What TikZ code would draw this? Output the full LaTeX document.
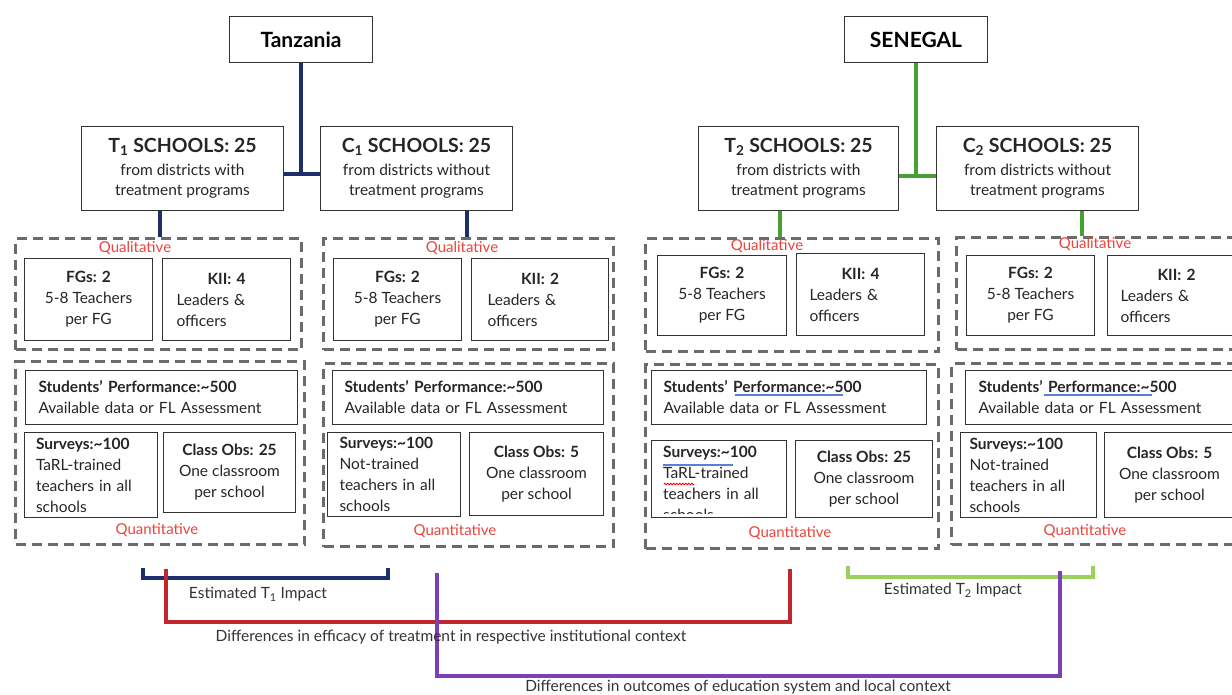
\documentclass[tikz,border=0pt]{standalone}
\usepackage{fontspec}
\setmainfont{Lato}
\usetikzlibrary{calc,decorations.pathmorphing}
\definecolor{navy}{HTML}{1C2E6C}
\definecolor{sgreen}{HTML}{47A032}
\definecolor{lgreen}{HTML}{9BD15A}
\definecolor{bred}{HTML}{C0262C}
\definecolor{purp}{HTML}{7A40B5}
\definecolor{lblred}{HTML}{E8453C}
\definecolor{dgray}{HTML}{6B6B6B}
\definecolor{spell}{HTML}{5B7FD6}
\newcommand\ttlf{\fontsize{19.5}{22}\selectfont\bfseries}
\newcommand\bdyf{\fontsize{15.5}{20}\selectfont}
\newcommand\boxf{\fontsize{15.5}{21}\selectfont}
\newcommand\lblf{\fontsize{15.5}{18}\selectfont}
\begin{document}
\begin{tikzpicture}[x=1pt,y=-1pt,
  country/.style={draw=black!80,line width=1pt,fill=white,anchor=north west,inner sep=0pt,minimum width=143pt,minimum height=46pt,font=\fontsize{21}{23}\selectfont\bfseries,text=black},
  school/.style={draw=black!80,line width=1pt,fill=white,anchor=north west,inner sep=0pt,minimum height=84pt,align=center,font=\bdyf,text=black!85},
  ibox/.style={draw=black!80,line width=1pt,fill=white,anchor=north west,inner sep=0pt,font=\boxf,text=black!85},
  grp/.style={draw=dgray,line width=3pt,dash pattern=on 10pt off 6pt,anchor=north west,inner sep=0pt},
  tag/.style={text=lblred,font=\fontsize{15}{17}\selectfont},
  tlink/.style={line width=4pt},
  brk/.style={line width=3.5pt},
  note/.style={font=\lblf,text=black!80}
]
\useasboundingbox (0,0) rectangle (1232,694);
\clip (0,0) rectangle (1232,694);

% ---------------- dashed groups ----------------
\node[grp,minimum width=286pt,minimum height=111pt] (q1) at (14,237) {};
\node[grp,minimum width=290pt,minimum height=111pt] (q2) at (322,237) {};
\node[grp,minimum width=289pt,minimum height=183pt] (n1) at (14,360) {};
\node[grp,minimum width=290pt,minimum height=183pt] (n2) at (322,362) {};
\node[grp,minimum width=293pt,minimum height=113pt] (q3) at (644,237) {};
\node[grp,minimum width=300pt,minimum height=112pt] (q4) at (955,236) {};
\node[grp,minimum width=293pt,minimum height=184pt] (n3) at (644,363) {};
\node[grp,minimum width=300pt,minimum height=181pt] (n4) at (950,362) {};

\node[tag] (ql1) at (135,248) {Qualitative};
\node[tag] (ql2) at (462,248) {Qualitative};
\node[tag] (ql3) at (767,246) {Qualitative};
\node[tag] (ql4) at (1095,244) {Qualitative};
\node[tag] (qn1) at (157,530) {Quantitative};
\node[tag] (qn2) at (455,531) {Quantitative};
\node[tag] (qn3) at (790,533) {Quantitative};
\node[tag] (qn4) at (1085,531) {Quantitative};

% ---------------- top boxes ----------------
\node[country] (tz) at (229,16) {Tanzania};
\node[country] (sn) at (844,16) {SENEGAL};
\node[school,minimum width=202pt] (t1) at (81,126) {{\ttlf T\textsubscript{1} SCHOOLS: 25}\\[3pt]from districts with\\treatment programs};
\node[school,minimum width=192pt] (c1) at (320,126) {{\ttlf C\textsubscript{1} SCHOOLS: 25}\\[3pt]from districts without\\treatment programs};
\node[school,minimum width=200pt] (t2) at (698,126) {{\ttlf T\textsubscript{2} SCHOOLS: 25}\\[3pt]from districts with\\treatment programs};
\node[school,minimum width=202pt] (c2) at (936,126) {{\ttlf C\textsubscript{2} SCHOOLS: 25}\\[3pt]from districts without\\treatment programs};

% ---------------- connectors ----------------
\coordinate (tj) at (300,174);
\coordinate (sj) at (916,176);
\draw[navy,tlink] (t1.east |- tj) -- (c1.west |- tj);
\draw[navy,tlink] (tz.south) -- (tz.south |- tj);
\draw[sgreen,tlink] (t2.east |- sj) -- (c2.west |- sj);
\draw[sgreen,tlink] (sn.south) -- (sn.south |- sj);
\coordinate (t1d) at ($(t1.south west)!0.39!(t1.south east)$);
\coordinate (c1d) at ($(c1.south west)!0.76!(c1.south east)$);
\coordinate (t2d) at ($(t2.south west)!0.41!(t2.south east)$);
\coordinate (c2d) at ($(c2.south west)!0.72!(c2.south east)$);
\draw[navy,tlink] (t1d) -- (t1d |- q1.north);
\draw[navy,tlink] (c1d) -- (c1d |- q2.north);
\draw[sgreen,tlink] (t2d) -- (t2d |- q3.north);
\draw[sgreen,tlink] (c2d) -- (c2d |- q4.north);

% ---------------- Tanzania inner boxes ----------------
\node[ibox,minimum width=128pt,minimum height=82pt,align=center] (fg1) at (24,258) {\textbf{FGs: 2}\\5-8 Teachers\\per FG};
\node[ibox,minimum width=128pt,minimum height=82pt,text width=100pt,align=left] (kii1) at (162,258) {\makebox[100pt]{\textbf{KII: 4}}\\Leaders \&\\officers};
\node[ibox,minimum width=128pt,minimum height=82pt,align=center] (fg2) at (333,258) {\textbf{FGs: 2}\\5-8 Teachers\\per FG};
\node[ibox,minimum width=137pt,minimum height=82pt,text width=105pt,align=left] (kii2) at (471,258) {\makebox[105pt]{\textbf{KII: 2}}\\Leaders \&\\officers};

\node[ibox,minimum width=272pt,minimum height=54pt,text width=246pt,align=left] (sp1) at (25,370) {\textbf{Students' Performance:\textasciitilde500}\\Available data or FL Assessment};
\node[ibox,minimum width=133pt,minimum height=85pt,text width=110pt,align=left] (sv1) at (24,432) {\textbf{Surveys:\textasciitilde100}\\TaRL-trained\\teachers in all\\schools};
\node[ibox,minimum width=132pt,minimum height=80pt,align=center] (co1) at (163,432) {\textbf{Class Obs: 25}\\One classroom\\per school};

\node[ibox,minimum width=271pt,minimum height=54pt,text width=247pt,align=left] (sp2) at (332,370) {\textbf{Students' Performance:\textasciitilde500}\\Available data or FL Assessment};
\node[ibox,minimum width=133pt,minimum height=84pt,text width=109pt,align=left] (sv2) at (327,432) {\textbf{Surveys:\textasciitilde100}\\Not-trained\\teachers in all\\schools};
\node[ibox,minimum width=134pt,minimum height=83pt,align=center] (co2) at (469,432) {\textbf{Class Obs: 5}\\One classroom\\per school};

% ---------------- Senegal inner boxes ----------------
\node[ibox,minimum width=129pt,minimum height=80pt,align=center] (fg3) at (657,255) {\textbf{FGs: 2}\\5-8 Teachers\\per FG};
\node[ibox,minimum width=128pt,minimum height=82pt,text width=102pt,align=left] (kii3) at (796,253) {\makebox[102pt]{\textbf{KII: 4}}\\Leaders \&\\officers\\[6pt]};
\node[ibox,minimum width=128pt,minimum height=80pt,align=center] (fg4) at (966,255) {\textbf{FGs: 2}\\5-8 Teachers\\per FG};
\node[ibox,minimum width=138pt,minimum height=80pt,text width=112pt,align=left] (kii4) at (1107,255) {\makebox[112pt]{\textbf{KII: 2}}\\Leaders \&\\officers};

\node[ibox,minimum width=275pt,minimum height=54pt,text width=251pt,align=left] (sp3) at (651,370) {\textbf{Students' Performance:\textasciitilde500}\\Available data or FL Assessment};
\node[ibox,minimum width=135pt,minimum height=77pt] (sv3) at (651,440) {};
\begin{scope}
\clip (652,441) rectangle (785,513);
\node[anchor=north west,inner sep=0pt,font=\boxf,text=black!85,text width=115pt,align=left] (sv3t) at (663,446) {\textbf{Surveys:\textasciitilde100}\\TaRL-trained\\teachers in all\\schools};
\end{scope}
\node[ibox,minimum width=137pt,minimum height=77pt,align=center] (co3) at (795,440) {\textbf{Class Obs: 25}\\One classroom\\per school};

\node[ibox,minimum width=290pt,minimum height=54pt,text width=264pt,align=left] (sp4) at (965,370) {\textbf{Students' Performance:\textasciitilde500}\\Available data or FL Assessment};
\node[ibox,minimum width=136pt,minimum height=85pt,text width=118pt,align=left] (sv4) at (960,432) {\textbf{Surveys:\textasciitilde100}\\Not-trained\\teachers in all\\schools};
\node[ibox,minimum width=130pt,minimum height=85pt,align=center] (co4) at (1104,432) {\textbf{Class Obs: 5}\\One classroom\\per school};

% spell-check marks
\draw[spell,line width=1.2pt] (735,395) -- (843,395);
\draw[spell,line width=1.2pt] (1044,395) -- (1152,395);
\draw[spell,line width=1.2pt] (663,465) -- (733,465);
\draw[red,line width=0.8pt,decorate,decoration={zigzag,segment length=3pt,amplitude=0.8pt}] (664,484) -- (694,484);

% ---------------- bottom brackets ----------------
\coordinate (a1) at (143,568); \coordinate (a2) at (388,568); \coordinate (ay) at (0,578);
\coordinate (g1) at (848,566); \coordinate (g2) at (1093,566); \coordinate (gy) at (0,577);
\coordinate (r1) at (166,569); \coordinate (r2) at (790,569); \coordinate (ry) at (0,622);
\coordinate (p1) at (437,573); \coordinate (p2) at (1060,571); \coordinate (py) at (0,676);
\draw[navy,brk] (a1) -- (a1 |- ay) -- (a2 |- ay) -- (a2);
\draw[lgreen,brk] (g1) -- (g1 |- gy) -- (g2 |- gy) -- (g2);
\draw[bred,brk] (r1) -- (r1 |- ry) -- (r2 |- ry) -- (r2);
\draw[purp,brk] (p1) -- (p1 |- py) -- (p2 |- py) -- (p2);

\node[note] (e1) at (258,594) {Estimated T\textsubscript{1} Impact};
\node[note] (e2) at (953,590) {Estimated T\textsubscript{2} Impact};
\node[note] (d1) at (451,637) {Differences in efficacy of treatment in respective institutional context};
\node[note] (d2) at (738,687) {Differences in outcomes of education system and local context};
\end{tikzpicture}
\end{document}
